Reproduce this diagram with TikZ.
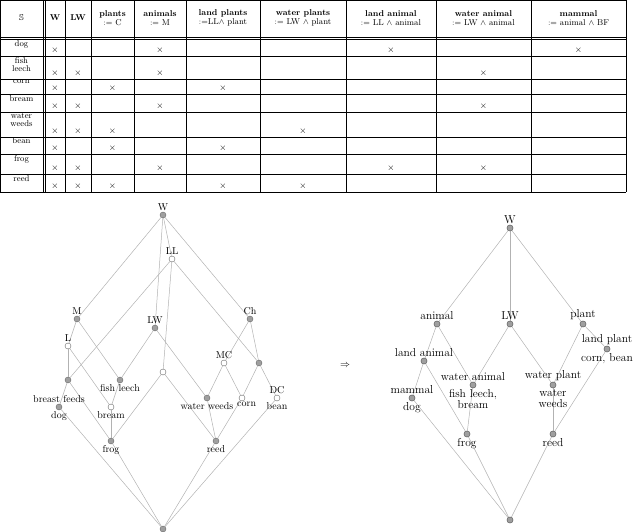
\documentclass[tikz,border=0pt]{standalone}
\usepackage{amssymb}
\begin{document}
\begin{tikzpicture}[x=1pt,y=-1pt,
  tl/.style={line width=0.5pt},
  dbl/.style={line width=0.5pt},
  hd/.style={font=\fontsize{8.5}{8.5}\selectfont, align=center, inner sep=0},
  cx/.style={font=\fontsize{9}{9}\selectfont, inner sep=0},
  rn/.style={font=\fontsize{8.5}{8}\selectfont, align=center, inner sep=0, anchor=north},
  fn/.style={circle, draw=gray!80!black, fill=gray!75, minimum size=6pt, inner sep=0},
  on/.style={circle, draw=gray!80!black, fill=white, minimum size=6pt, inner sep=0},
  ed/.style={draw=gray!60, line width=0.5pt},
  lb/.style={font=\fontsize{10}{10}\selectfont, inner sep=1pt, align=center},
  rb/.style={font=\fontsize{11.5}{11}\selectfont, inner sep=1pt, align=center}]
\useasboundingbox (0,0) rectangle (640,532);
% ---------- table ----------
\def\cols{0,43,45,65,91,134,186,260,346,436,531,626}
\foreach \x in {0,43,45,65,91,134,186,260,346,436,531,626} \draw[tl] (\x,0) -- (\x,192);
\draw[tl] (0,0) -- (626,0);
\draw[tl] (0,37) -- (626,37);
\draw[tl] (0,39.5) -- (626,39.5);
\foreach \y in {56,79,94,112,137,154,174,192} \draw[tl] (0,\y) -- (626,\y);
\node[hd] (h0) at (21.5,18) {$\mathbb{S}$};
\node[hd] (h1) at (55,18) {\textbf{W}};
\node[hd] (h2) at (78,18) {\textbf{LW}};
\node[hd] (h3) at (112.5,18) {\textbf{plants}\\$:=$ C};
\node[hd] (h4) at (160,18) {\textbf{animals}\\$:=$ M};
\node[hd] (h5) at (223,18) {\textbf{land plants}\\$:=$LL$\wedge$ plant};
\node[hd] (h6) at (303,18) {\textbf{water plants}\\$:=$ LW $\wedge$ plant};
\node[hd] (h7) at (391,18) {\textbf{land animal}\\$:=$ LL $\wedge$ animal};
\node[hd] (h8) at (483.5,18) {\textbf{water animal}\\$:=$ LW $\wedge$ animal};
\node[hd] (h9) at (578.5,18) {\textbf{mammal}\\$:=$ animal $\wedge$ BF};
\node[rn] (r1) at (21.5,40.5) {dog};
\node[rn] (r2) at (21.5,57) {fish\\leech};
\node[rn] (r3) at (21.5,79.5) {corn};
\node[rn] (r4) at (21.5,95) {bream};
\node[rn] (r5) at (21.5,113) {water\\weeds};
\node[rn] (r6) at (21.5,137.5) {bean};
\node[rn] (r7) at (21.5,155) {frog};
\node[rn] (r8) at (21.5,175) {reed};
\foreach \y/\list in {50/{1,4,7,9}, 73/{1,2,4,8}, 88/{1,3,5}, 106/{1,2,4,8}, 131/{1,2,3,6}, 148/{1,3,5}, 168/{1,2,4,7,8}, 186/{1,2,3,5,6}}{
  \foreach \c in \list {
    \ifcase\c\or\def\xx{55}\or\def\xx{78}\or\def\xx{112.5}\or\def\xx{160}\or\def\xx{223}\or\def\xx{303}\or\def\xx{391}\or\def\xx{483.5}\or\def\xx{578.5}\fi
    \node[cx] at (\xx,\y) {$\times$};
  }
}
% ---------- left lattice ----------
\node[fn] (W) at (163,215) {};
\node[on] (LL) at (172,259) {};
\node[fn] (M) at (77,319) {};
\node[fn] (LW) at (155,328) {};
\node[fn] (Ch) at (250,319) {};
\node[on] (L) at (68,346) {};
\node[on] (n1) at (163,372) {};
\node[on] (MC) at (224,363) {};
\node[fn] (n2) at (259,363) {};
\node[fn] (a) at (68,380) {};
\node[fn] (fl) at (120,380) {};
\node[fn] (ww) at (207,398) {};
\node[on] (co) at (242,398) {};
\node[on] (DC) at (277,398) {};
\node[fn] (dog) at (59,407) {};
\node[on] (br) at (111,407) {};
\node[fn] (fr) at (111,441) {};
\node[fn] (re) at (216,441) {};
\node[fn] (bot) at (163,529) {};
\begin{scope}[on background layer/.style={}]
\foreach \p/\q in {W/M,W/Ch,W/LL,W/LW,LL/n1,LL/a,LL/n2,M/L,M/fl,L/a,L/br,LW/fl,LW/ww,n1/fr,n1/re,Ch/MC,Ch/n2,MC/ww,MC/co,n2/co,n2/DC,a/dog,a/fr,fl/br,br/fr,ww/re,co/re,dog/bot,fr/bot,re/bot,DC/bot}
  \draw[ed] (\p) -- (\q);
\end{scope}
\foreach \n in {W,LL,M,LW,Ch,L,n1,MC,n2,a,fl,ww,co,DC,dog,br,fr,re,bot} \node[fn, fill=none, draw=none] at (\n) {};
\node[lb, anchor=south] at (W.north) {W};
\node[lb, anchor=south] at (LL.north) {LL};
\node[lb, anchor=south] at (M.north) {M};
\node[lb, anchor=south] at (LW.north) {LW};
\node[lb, anchor=south] at (Ch.north) {Ch};
\node[lb, anchor=south] at (L.north) {L};
\node[lb, anchor=south] at (MC.north) {MC};
\node[lb, anchor=south] at (DC.north) {DC};
\node[lb, anchor=north] at (DC.south) {bean};
\node[lb, anchor=north] at (fl.south) {fish leech};
\node[lb, anchor=north] at (ww.south) {water weeds};
\node[lb, anchor=north west] at ([xshift=-6pt]co.south) {corn};
\node[lb, anchor=south] at (dog.north) {breast feeds};
\node[lb, anchor=north] at (dog.south) {dog};
\node[lb, anchor=north] at (br.south) {bream};
\node[lb, anchor=north] at (fr.south) {frog};
\node[lb, anchor=north] at (re.south) {reed};
% ---------- arrow ----------
\node[lb] (imp) at (345,366) {$\Rightarrow$};
% ---------- right lattice ----------
\node[fn] (RW) at (510,228) {};
\node[fn] (ani) at (437,324) {};
\node[fn] (RLW) at (510,324) {};
\node[fn] (pl) at (583,324) {};
\node[fn] (la) at (424,361) {};
\node[fn] (lp) at (607,349) {};
\node[fn] (wa) at (473,385) {};
\node[fn] (wp) at (553,385) {};
\node[fn] (mam) at (412,398) {};
\node[fn] (Rfr) at (467,434) {};
\node[fn] (Rre) at (553,434) {};
\node[fn] (Rbot) at (510,520) {};
\foreach \p/\q in {RW/ani,RW/RLW,RW/pl,ani/la,ani/wa,RLW/wa,RLW/wp,pl/lp,pl/wp,la/mam,la/Rfr,wa/Rfr,wp/Rre,lp/Rre,mam/Rbot,Rfr/Rbot,Rre/Rbot}
  \draw[ed] (\p) -- (\q);
\foreach \n in {RW,ani,RLW,pl,la,lp,wa,wp,mam,Rfr,Rre,Rbot} \node[fn] at (\n) {};
\node[rb, anchor=south] at (RW.north) {W};
\node[rb, anchor=south] at (ani.north) {animal};
\node[rb, anchor=south] at (RLW.north) {LW};
\node[rb, anchor=south] at (pl.north) {plant};
\node[rb, anchor=south] at (la.north) {land animal};
\node[rb, anchor=south] at (lp.north) {land plant};
\node[rb, anchor=north] at (lp.south) {corn, bean};
\node[rb, anchor=south] at (wa.north) {water animal};
\node[rb, anchor=north] at (wa.south) {fish leech,\\bream};
\node[rb, anchor=south] at (wp.north) {water plant};
\node[rb, anchor=north] at (wp.south) {water\\weeds};
\node[rb, anchor=south] at (mam.north) {mammal};
\node[rb, anchor=north] at (mam.south) {dog};
\node[rb, anchor=north] at (Rfr.south) {frog};
\node[rb, anchor=north] at (Rre.south) {reed};
\end{tikzpicture}
\end{document}
